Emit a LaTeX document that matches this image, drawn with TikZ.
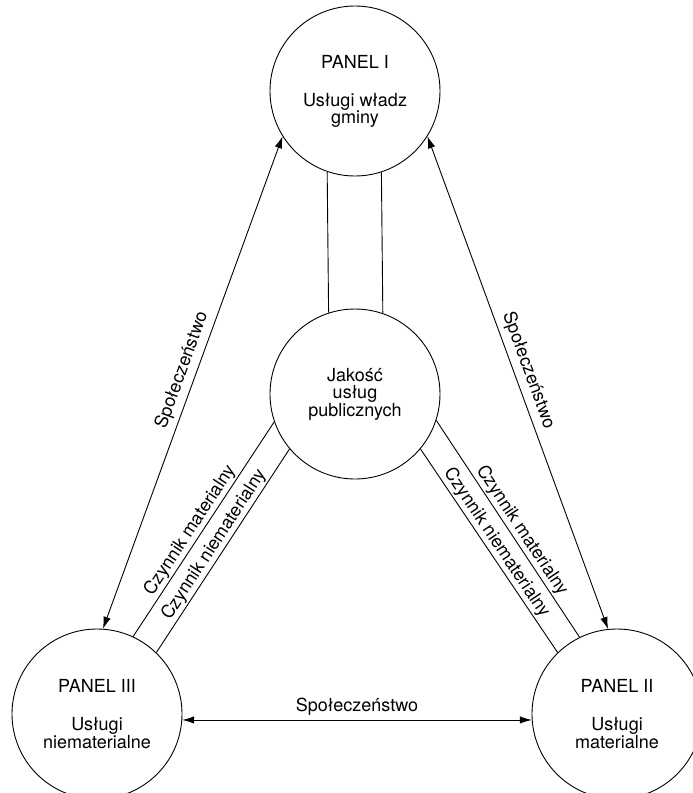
\documentclass[tikz,border=0pt]{standalone}
\usepackage{fontspec}
\setmainfont{TeX Gyre Heros}
\usetikzlibrary{arrows.meta}
\begin{document}
\begin{tikzpicture}[x=1pt,y=-1pt,
  circ/.style={draw, circle, minimum size=170pt, inner sep=0pt, align=center,
    font=\fontsize{18}{17}\selectfont, line width=0.9pt},
  conn/.style={line width=0.9pt},
  arr/.style={conn, {Latex[length=12pt,width=7.5pt]}-{Latex[length=12pt,width=7.5pt]}},
  lab/.style={font=\fontsize{18}{17}\selectfont, sloped, above, inner sep=1.5pt},
  slab/.style={lab, inner sep=5pt}
]
\clip (0,0) rectangle (693,793);

\node[circ] (P1) at (355,91) {PANEL I\\[21pt]Usługi władz\\gminy};
\node[circ] (C)  at (355,394) {Jakość\\usług\\publicznych};
\node[circ] (P3) at (97,714) {PANEL III\\[21pt]Usługi\\niematerialne};
\node[circ] (P2) at (617,714) {PANEL II\\[21pt]Usługi\\materialne};

% vertical double link
\draw[conn] (P1.251.5) -- (C.108.5);
\draw[conn] (P1.288.5) -- (C.71.5);

% Społeczeństwo arrows
\draw[arr] (P3.86.7) -- node[slab, pos=0.515] {Społeczeństwo} (P1.212.4);
\draw[arr] (P1.328) -- node[slab, pos=0.485] {Społeczeństwo} (P2.96);
\draw[arr] (P3.356) -- node[lab, midway, inner sep=4pt] {Społeczeństwo} (P2.184);

% Czynnik lines, left
\draw[conn] (P3.65) -- node[lab, pos=0.467] {Czynnik materialny} (C.199);
\draw[conn] (P3.46) -- node[lab, pos=0.5] {Czynnik niematerialny} (C.220);

% Czynnik lines, right
\draw[conn] (C.342) -- node[lab, pos=0.535] {Czynnik materialny} (P2.116);
\draw[conn] (C.320) -- node[lab, pos=0.49] {Czynnik niematerialny} (P2.134.5);
\end{tikzpicture}
\end{document}
